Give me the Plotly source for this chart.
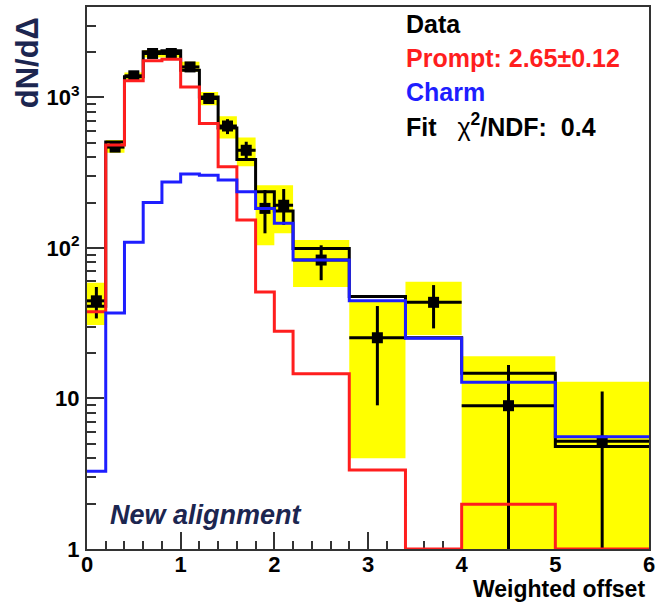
import plotly.graph_objects as go

# ---- binning (variable width) ----
bin_edges = [0.0, 0.2, 0.4, 0.6, 0.8, 1.0, 1.2, 1.4, 1.6, 1.8, 2.0, 2.2, 2.8, 3.4, 4.0, 5.0, 6.0]

# ---- template histograms ----
prompt = [37.6, 482, 1288, 1747, 1793, 1171, 671, 346, 153, 51, 27.9, 14.6, 3.35, 0, 1.98, 0]
charm = [3.29, 37, 109, 200, 274, 310, 304, 282, 236, 183, 146, 83, 44.5, 25.1, 12.8, 5.57]
fit_total = [41, 505, 1368, 2005, 2036, 1513, 1007, 625, 386, 236, 176, 99, 47.5, 25.3, 14.7, 4.8]

# ---- data points ----
data_val = [44.5, 467, 1390, 1956, 1956, 1592, 982, 645, 445, 183, 192, 83, 25.3, 43.5, 8.95, 5.2]
stat_lo = [34, 445, 1345, 1900, 1900, 1545, 950, 570, 383, 125, 142, 61, 9.0, 29.2, 0, 0]
stat_hi = [55, 490, 1435, 2010, 2010, 1640, 1015, 716, 507, 242, 246, 104, 41.1, 56.6, 16.7, 11.1]
sys_lo = [30.7, 428, 1320, 1842, 1842, 1479, 887, 533, 349, 104, 125, 55, 4.0, 26.4, 0, 0]
sys_hi = [58.7, 520, 1460, 2061, 2061, 1722, 1086, 750, 541, 261, 261, 113, 43.9, 59.6, 19.1, 12.9]

# ---- axis ----
y_floor = 1.0
y_top_log = 3.6
y_major_vals = [1, 10, 100, 1000]
y_major_text = ["1", "10", "10<sup>2</sup>", "10<sup>3</sup>"]

RED = "#ff1e1e"
BLUE = "#1e1eff"
NAVY = "#1c2650"
FRAME = "#333333"
BELOW = 0.05  # anything under the axis floor is clipped away


def step_xy(vals):
    ys = [v if v > 0 else y_floor for v in vals]
    return list(bin_edges), ys + [ys[-1]]


centers = [(bin_edges[i] + bin_edges[i + 1]) / 2 for i in range(len(data_val))]

fig = go.Figure()

# systematic uncertainty boxes
bx, by = [], []
for i in range(len(data_val)):
    lo = sys_lo[i] if sys_lo[i] > 0 else BELOW
    hi = sys_hi[i]
    x0, x1 = bin_edges[i], bin_edges[i + 1]
    bx += [x0, x1, x1, x0, x0, None]
    by += [lo, lo, hi, hi, lo, None]
fig.add_trace(go.Scatter(x=bx, y=by, mode="lines", fill="toself",
                         fillcolor="#ffff00", line=dict(width=0),
                         hoverinfo="skip", showlegend=False))

# data: statistical error bars (vertical) and bin-width bars (horizontal)
ex, ey = [], []
for i in range(len(data_val)):
    lo = stat_lo[i] if stat_lo[i] > 0 else BELOW
    ex += [centers[i], centers[i], None, bin_edges[i], bin_edges[i + 1], None]
    ey += [lo, stat_hi[i], None, data_val[i], data_val[i], None]
fig.add_trace(go.Scatter(x=ex, y=ey, mode="lines",
                         line=dict(color="black", width=3),
                         hoverinfo="skip", showlegend=False))
fig.add_trace(go.Scatter(x=centers, y=data_val, mode="markers",
                         marker=dict(symbol="square", size=11, color="black"),
                         name="Data", showlegend=False))

# fit and its components
for vals, col, nm in [(fit_total, "black", "Fit"), (prompt, RED, "Prompt"), (charm, BLUE, "Charm")]:
    sx, sy = step_xy(vals)
    fig.add_trace(go.Scatter(x=sx, y=sy, mode="lines", line_shape="hv",
                             line=dict(color=col, width=3), name=nm, showlegend=False))

bold = dict(family="Liberation Sans, Arial, sans-serif", weight="bold")

fig.update_layout(
    width=660, height=603,
    margin=dict(l=87, r=5, t=7, b=54),
    paper_bgcolor="white", plot_bgcolor="white",
    showlegend=False,
    xaxis=dict(
        range=[0, 6], dtick=1, tick0=0,
        showgrid=False, zeroline=False,
        showline=True, mirror=True, linecolor=FRAME, linewidth=2,
        ticks="inside", ticklen=17, tickwidth=2, tickcolor=FRAME,
        minor=dict(dtick=0.2, ticks="inside", ticklen=8, tickwidth=2, tickcolor=FRAME, showgrid=False),
        tickfont=dict(size=22, color="black", **bold),
        ticklabelstandoff=-5,
        layer="below traces",
    ),
    yaxis=dict(
        type="log", range=[0, y_top_log],
        tickvals=y_major_vals, ticktext=y_major_text,
        showgrid=False, zeroline=False,
        showline=True, mirror=True, linecolor=FRAME, linewidth=2,
        ticks="inside", ticklen=17, tickwidth=2, tickcolor=FRAME,
        minor=dict(tickvals=[k * 10 ** d for d in range(4) for k in range(2, 10)],
                   ticks="inside", ticklen=9, tickwidth=2, tickcolor=FRAME, showgrid=False),
        tickfont=dict(size=22, color="black", **bold),
        ticklabelstandoff=1,
        layer="below traces",
    ),
)

ann = [
    dict(text="Data", x=0.5634, y=0.9686, color="black"),
    dict(text="Prompt: 2.65\u00b10.12", x=0.5634, y=0.9068, color=RED),
    dict(text="Charm", x=0.5634, y=0.843, color=BLUE),
    dict(text="Fit\u00a0\u00a0\u00a0<span style='font-weight:normal'>\u03c7</span><sup>2</sup>/NDF:\u00a0\u00a00.4",
         x=0.5634, y=0.782, color="black"),
]
for a in ann:
    fig.add_annotation(text=a["text"], x=a["x"], y=a["y"], xref="paper", yref="paper",
                       xanchor="left", yanchor="middle", showarrow=False,
                       font=dict(size=25, color=a["color"], **bold))

fig.add_annotation(text="<i>New alignment</i>", x=0.037, y=0.063, xref="paper", yref="paper",
                   xanchor="left", yanchor="middle", showarrow=False,
                   font=dict(size=27, color=NAVY, **bold))
fig.add_annotation(text="Weighted offset", x=0.997, y=-0.047, xref="paper", yref="paper",
                   xanchor="right", yanchor="top", showarrow=False,
                   font=dict(size=23, color="black", **bold))
fig.add_annotation(text="dN/d\u0394", x=-0.106, y=0.897, xref="paper", yref="paper",
                   xanchor="center", yanchor="middle", textangle=-90, showarrow=False,
                   font=dict(size=31, color=NAVY, **bold))

fig.write_html("out.html")
